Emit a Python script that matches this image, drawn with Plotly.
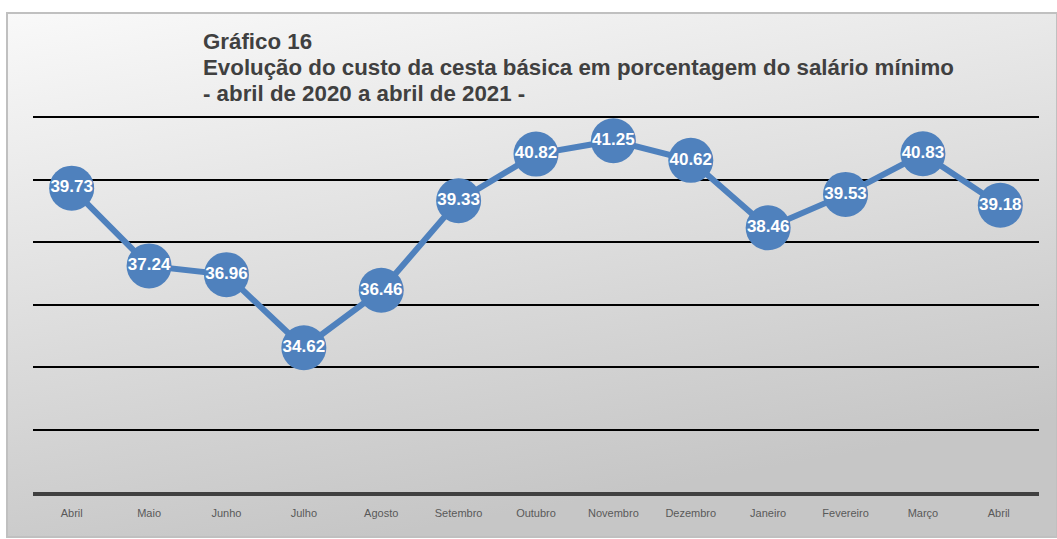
import plotly.graph_objects as go
import urllib.parse

meses = ["Abril", "Maio", "Junho", "Julho", "Agosto", "Setembro", "Outubro",
         "Novembro", "Dezembro", "Janeiro", "Fevereiro", "Março", "Abril "]
valores = [39.73, 37.24, 36.96, 34.62, 36.46, 39.33, 40.82,
           41.25, 40.62, 38.46, 39.53, 40.83, 39.18]
rotulos = [f"{v:.2f}" for v in valores]

titulo = ["Gráfico 16",
          "Evolução do custo da cesta básica em porcentagem do salário mínimo",
          "- abril de 2020 a abril de 2021 -"]

W, H = 1057, 539
L, R, T, B = 33, 18, 116, 47
pw, ph = W - L - R, H - T - B

# fundo com degradê (svg inline)
fx0, fy0, fx1, fy1 = 6, 12, 1058, 538
svg = f'''<svg xmlns="http://www.w3.org/2000/svg" width="{fx1-fx0}" height="{fy1-fy0}">
<defs><linearGradient id="g" x1="0" y1="0" x2="0.35" y2="1">
<stop offset="0" stop-color="#f9f9f9"/><stop offset="1" stop-color="#c6c6c6"/>
</linearGradient></defs>
<rect x="1" y="1" width="{fx1-fx0-2}" height="{fy1-fy0-2}" fill="url(#g)" stroke="#c0c0c0" stroke-width="2"/>
</svg>'''
src = "data:image/svg+xml;charset=utf-8," + urllib.parse.quote(svg)

fig = go.Figure()
fig.add_trace(go.Scatter(
    x=meses, y=valores, mode="lines+markers+text",
    line=dict(color="#4f81bd", width=6),
    marker=dict(size=45, color="#4f81bd"),
    text=rotulos, textposition="middle center",
    textfont=dict(family="Arial", size=17, color="white", weight="bold"),
    cliponaxis=False, showlegend=False, hoverinfo="skip",
))

fig.add_layout_image(dict(
    source=src, xref="paper", yref="paper",
    x=(fx0 - L) / pw, y=(H - B - fy0) / ph,
    sizex=(fx1 - fx0) / pw, sizey=(fy1 - fy0) / ph,
    sizing="stretch", xanchor="left", yanchor="top", layer="below",
))

for i, linha in enumerate(titulo):
    fig.add_annotation(
        text=f"<b>{linha}</b>", xref="paper", yref="paper",
        x=(201 - L) / pw, y=(H - B - (42 + i * 25.5)) / ph,
        xanchor="left", yanchor="middle", showarrow=False,
        font=dict(family="Arial", size=22.3, color="#404040"),
    )

fig.update_layout(
    width=W, height=H,
    margin=dict(l=L, r=R, t=T, b=B),
    paper_bgcolor="white", plot_bgcolor="rgba(0,0,0,0)",
    xaxis=dict(
        showgrid=False, showline=True, linecolor="#404040", linewidth=4,
        ticks="outside", ticklen=8, tickcolor="rgba(0,0,0,0)",
        tickfont=dict(family="Arial", size=11, color="#595959"),
        range=[-0.5, len(meses) - 0.5],
    ),
    yaxis=dict(
        range=[30, 42.04], tickvals=[32, 34, 36, 38, 40, 42], showticklabels=False,
        showgrid=True, gridcolor="black", gridwidth=2,
        zeroline=False, showline=False,
    ),
)

fig.write_html("out.html", config={"displayModeBar": False},
               post_script="document.body.style.margin='0';")
